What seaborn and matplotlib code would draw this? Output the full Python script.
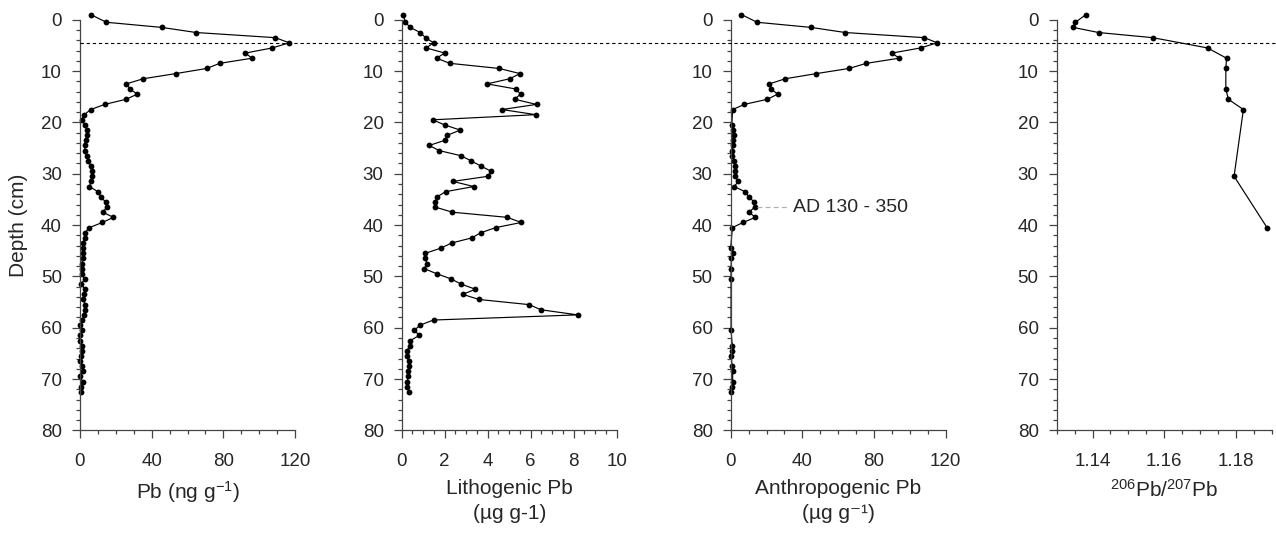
import matplotlib
matplotlib.use("Agg")
import matplotlib.pyplot as plt
import matplotlib.transforms as mtransforms
from matplotlib.lines import Line2D
from matplotlib.ticker import MultipleLocator, FormatStrFormatter
import seaborn as sns

# sample depths (cm) for total and lithogenic Pb
depth_core = [-1, 0.5, 1.5, 2.5, 3.5, 4.5, 5.5, 6.5, 7.5, 8.5, 9.5,
              10.5, 11.5, 12.5, 13.5, 14.5, 15.5, 16.5, 17.5, 18.5, 19.5,
              20.5, 21.5, 22.5, 23.5, 24.5, 25.5, 26.5, 27.5, 28.5, 29.5,
              30.5, 31.5, 32.5, 33.5, 34.5, 35.5, 36.5, 37.5, 38.5, 39.5,
              40.5, 41.5, 42.5, 43.5, 44.5, 45.5, 46.5, 47.5, 48.5, 49.5,
              50.5, 51.5, 52.5, 53.5, 54.5, 55.5, 56.5, 57.5, 58.5, 59.5,
              60.5, 61.5, 62.5, 63.5, 64.5, 65.5, 66.5, 67.5, 68.5, 69.5,
              70.5, 71.5, 72.5]

# total Pb (ng g-1)
pb_total = [6, 14.7, 45.6, 64.9, 109, 116.8, 107.3, 92.3, 96, 78, 70.7,
            53.4, 35.3, 25.9, 27.9, 32, 25.7, 13.8, 6, 2.4, 0.9,
            2.6, 4.1, 3.9, 3.2, 2.6, 2.8, 3.7, 4.7, 6, 6.5,
            6.5, 6.3, 5.2, 10, 11.5, 14.3, 14.9, 12.8, 18.6, 12.5,
            5.2, 2.8, 3.0, 1.5, 1.9, 1.9, 1.5, 1.1, 1.1, 0.9,
            2.6, 0.7, 2.6, 2.4, 1.9, 2.8, 2.6, 2.4, 1.1, 0.0,
            0.9, 0.1, 0.1, 1.1, 1.1, 0.7, 0.0, 1.1, 1.5, 0.1,
            1.5, 0.6, 0.6]

# lithogenic Pb (ug g-1)
pb_litho = [0.06, 0.17, 0.40, 0.86, 1.11, 1.48, 1.14, 2.0, 1.62, 2.24, 4.54,
            5.5, 5.03, 3.97, 5.31, 5.53, 5.25, 6.27, 4.66, 6.24, 1.44,
            2.0, 2.72, 2.13, 2.0, 1.28, 1.75, 2.76, 3.23, 3.68, 4.15,
            4.02, 2.38, 3.35, 2.04, 1.65, 1.56, 1.56, 2.36, 4.91, 5.56,
            4.37, 3.68, 3.26, 2.32, 1.82, 1.10, 1.10, 1.17, 1.05, 1.64,
            2.30, 2.76, 3.43, 2.84, 3.60, 5.93, 6.47, 8.19, 1.48, 0.85,
            0.59, 0.82, 0.40, 0.37, 0.25, 0.25, 0.32, 0.32, 0.31, 0.31,
            0.25, 0.25, 0.36]

# anthropogenic Pb (ug g-1)
depth_anthro = [-1, 0.5, 1.5, 2.5, 3.5, 4.5, 5.5, 6.5, 7.5, 8.5, 9.5,
                10.5, 11.5, 12.5, 13.5, 14.5, 15.5, 16.5, 17.5,
                20.5, 21.5, 22.5, 23.5, 24.5, 25.5, 26.5, 27.5, 28.5, 29.5,
                30.5, 31.5, 32.5, 33.5, 34.5, 35.5, 36.5, 37.5, 38.5, 39.5,
                40.5, 44.5, 45.5, 46.5, 48.5, 50.5, 60.5, 63.5, 64.5, 65.5,
                67.5, 68.5, 70.5, 71.5, 72.5]
pb_anthro = [6.0, 14.7, 44.8, 64, 108.1, 115.2, 106, 90, 94, 75.7, 66,
             47.8, 30.5, 21.6, 22.5, 26.2, 20.5, 7.6, 1.1,
             0.6, 1.1, 1.7, 1.1, 1.5, 0.9, 0.9, 1.9, 2.4, 2.6,
             2.2, 4.3, 1.9, 8.0, 10.2, 13.0, 13.4, 10.2, 13.8, 6.9,
             0.9, 0.0, 1.1, 0.4, 0.2, 0.2, 0.2, 0.9, 0.6, 0.4,
             0.7, 1.1, 1.1, 0.6, 0.2]

# 206Pb/207Pb ratio
depth_ratio = [-1, 0.5, 1.5, 2.5, 3.5, 5.5, 7.5, 9.5, 13.5, 15.5, 17.5, 30.5, 40.5]
ratio_206_207 = [1.1382, 1.1352, 1.1346, 1.1417, 1.1568, 1.1721, 1.1774,
                 1.1772, 1.1772, 1.1779, 1.1821, 1.1795, 1.1887]

peak_depth = 4.5
dated_depth = 36.5
dated_label = "AD 130 - 350"

sns.set_style("ticks")
plt.rcParams['font.family'] = ['Liberation Sans', 'DejaVu Sans']
plt.rcParams['mathtext.fontset'] = 'custom'
plt.rcParams['mathtext.rm'] = 'Liberation Sans'
plt.rcParams['mathtext.default'] = 'regular'

fig = plt.figure(figsize=(12.76, 5.33), dpi=100)
W, H = 1276, 533
lefts = [80, 401.7, 730.7, 1056.7]
axes = [fig.add_axes([l / W, 1 - 430.4 / H, 215 / W, 410.7 / H]) for l in lefts]

panels = [
    (depth_core, pb_total, (0, 120), 40, 10, '%d', 'Pb (ng g$^{-1}$)'),
    (depth_core, pb_litho, (0, 10), 2, 0.5, '%d', 'Lithogenic Pb\n(\u00b5g g-1)'),
    (depth_anthro, pb_anthro, (0, 120), 40, 10, '%d', 'Anthropogenic Pb\n(\u00b5g g\u207b\u00b9)'),
    (depth_ratio, ratio_206_207, (1.13, 1.19), 0.02, 0.005, '%.2f', '$^{206}$Pb/$^{207}$Pb'),
]

axis_col = '#444444'
for ax, (d, v, xlim, major, minor, fmt, label) in zip(axes, panels):
    sns.lineplot(x=v, y=d, ax=ax, sort=False, estimator=None, orient='y',
                 color='k', linewidth=0.85, marker='o', markersize=4.2,
                 markeredgecolor='k', markeredgewidth=0, clip_on=False)
    ax.set_xlim(*xlim)
    ax.set_ylim(80, 0)
    ax.xaxis.set_major_locator(MultipleLocator(major))
    ax.xaxis.set_minor_locator(MultipleLocator(minor))
    ax.xaxis.set_major_formatter(FormatStrFormatter(fmt))
    ax.yaxis.set_major_locator(MultipleLocator(10))
    ax.yaxis.set_minor_locator(MultipleLocator(2))
    sns.despine(ax=ax)
    for s in ['left', 'bottom']:
        ax.spines[s].set_color(axis_col)
        ax.spines[s].set_linewidth(0.9)
    ax.tick_params(which='major', length=6, width=0.9, color=axis_col, labelsize=13.5)
    ax.tick_params(which='minor', length=3, width=0.9, color=axis_col)
    ax.tick_params(axis='x', which='major', pad=10)
    ax.tick_params(axis='y', which='major', pad=7)
    ax.set_xlabel(label, fontsize=15, labelpad=7, linespacing=1.35)
    ax.set_ylabel('')
    ax.set_facecolor('white')

axes[0].set_ylabel('Depth (cm)', fontsize=15, labelpad=9)

# horizontal dashed marker of the Pb peak, across all panels
trans = mtransforms.blended_transform_factory(fig.transFigure, axes[0].transData)
fig.add_artist(Line2D([lefts[0] / W, 1.0], [peak_depth, peak_depth], transform=trans,
                      color='k', lw=0.8, ls=(0, (3, 2.5))))

# dated horizon label
axes[2].plot([14.5, 32], [dated_depth, dated_depth], color='#b0b0b0', lw=0.9, ls=(0, (4, 2.5)))
axes[2].text(35, dated_depth, dated_label, fontsize=14, va='center', ha='left')

fig.savefig('out.png', dpi=100, facecolor='white')
